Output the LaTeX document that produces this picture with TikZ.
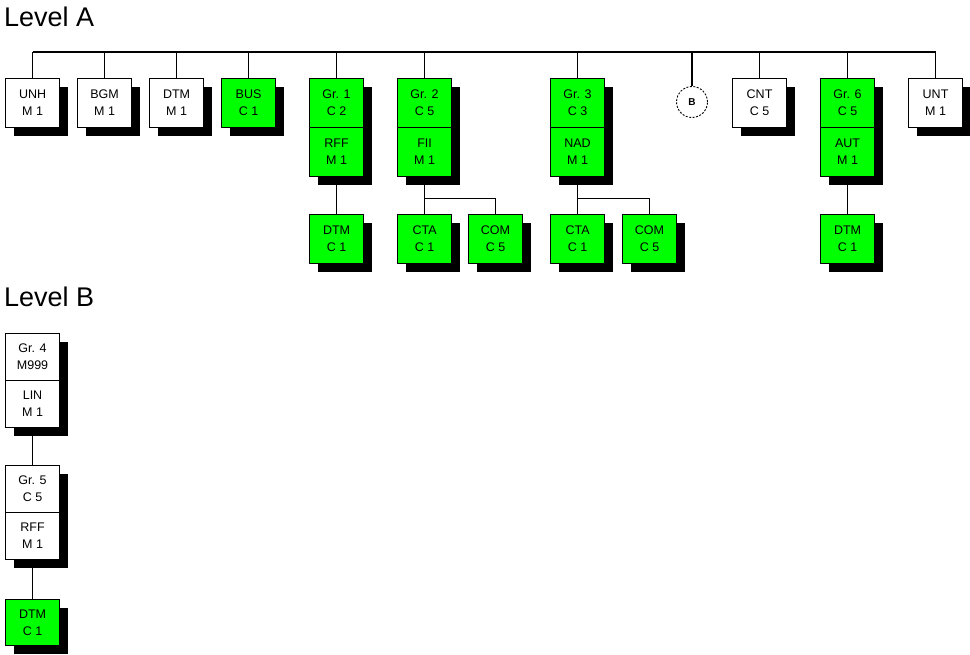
\documentclass[tikz,border=0pt]{standalone}
\usepackage{fontspec}
\setmainfont{Liberation Sans}
\usetikzlibrary{shadows,calc}
\definecolor{boxgreen}{HTML}{00FF00}
\newcommand{\boxfont}{\fontsize{12.5}{17}\selectfont}
\newcommand{\titlefont}{\fontsize{27}{30}\selectfont}
\tikzset{
  segbox/.style={draw=black, line width=1.1pt, minimum width=54pt, minimum height=#1,
    inner sep=0pt, anchor=north west, align=center, font=\boxfont,
    drop shadow={shadow xshift=8pt, shadow yshift=-8pt, opacity=1, fill=black}},
  segbox/.default=49pt,
  wbox/.style={segbox=#1, fill=white},
  wbox/.default=49pt,
  gbox/.style={segbox=#1, fill=boxgreen},
  gbox/.default=49pt,
  conn/.style={draw=black, line width=1.1pt},
  title/.style={anchor=base west, inner sep=0pt, font=\titlefont}
}
\begin{document}
\begin{tikzpicture}[x=1pt,y=-1pt]
\useasboundingbox (0,0) rectangle (970,655);
% titles
\node[title] (tA) at (4,27) {Level A};
\node[title] (tB) at (4,307) {Level B};
% bus level coordinate
\coordinate (busy) at (0,52);
% Level A top row
\node[wbox] (unh) at (5,78) {UNH\\M 1};
\node[wbox] (bgm) at (77,78) {BGM\\M 1};
\node[wbox] (dtmA) at (149,78) {DTM\\M 1};
\node[gbox] (bus) at (221,78) {BUS\\C 1};
\node[gbox] (gr1) at (309,78) {Gr. 1\\C 2};
\node[gbox] (rff1) at (309,127) {RFF\\M 1};
\node[gbox] (dtm1) at (309,214) {DTM\\C 1};
\node[gbox] (gr2) at (397,78) {Gr. 2\\C 5};
\node[gbox] (fii) at (397,127) {FII\\M 1};
\node[gbox] (cta2) at (397,214) {CTA\\C 1};
\node[gbox] (com2) at (468,214) {COM\\C 5};
\node[gbox] (gr3) at (550,78) {Gr. 3\\C 3};
\node[gbox] (nad) at (550,127) {NAD\\M 1};
\node[gbox] (cta3) at (550,214) {CTA\\C 1};
\node[gbox] (com3) at (622,214) {COM\\C 5};
\node[draw=black, line width=0.9pt, dash pattern=on 2pt off 1.5pt, circle,
      minimum size=31pt, inner sep=0pt, fill=white,
      font=\fontsize{10}{11}\selectfont\bfseries] (levb) at (692,102) {B};
\node[wbox] (cnt) at (732,78) {CNT\\C 5};
\node[gbox] (gr6) at (820,78) {Gr. 6\\C 5};
\node[gbox] (aut) at (820,127) {AUT\\M 1};
\node[gbox] (dtm6) at (820,214) {DTM\\C 1};
\node[wbox] (unt) at (908,78) {UNT\\M 1};
% Level B
\node[wbox=47pt] (gr4) at (5,333) {Gr. 4\\M999};
\node[wbox=47pt] (lin) at (5,380) {LIN\\M 1};
\node[wbox=47pt] (gr5) at (5,465) {Gr. 5\\C 5};
\node[wbox=47pt] (rff5) at (5,512) {RFF\\M 1};
\node[gbox=46pt] (dtmB) at (5,599) {DTM\\C 1};
% bus
\draw[conn] (unh.north |- busy) -- (unt.north |- busy);
\foreach \n in {unh,bgm,dtmA,bus,gr1,gr2,gr3,levb,cnt,gr6,unt}
  \draw[conn] (\n.north) -- (\n.north |- busy);
% children
\draw[conn] (rff1.south) -- (dtm1.north);
\draw[conn] (fii.south) -- (cta2.north);
\draw[conn] (fii.south) ++(0,21) coordinate (b2) -| (com2.north);
\draw[conn] (nad.south) -- (cta3.north);
\draw[conn] (nad.south) ++(0,21) coordinate (b3) -| (com3.north);
\draw[conn] (aut.south) -- (dtm6.north);
\draw[conn] (lin.south) -- (gr5.north);
\draw[conn] (rff5.south) -- (dtmB.north);
\end{tikzpicture}
\end{document}
